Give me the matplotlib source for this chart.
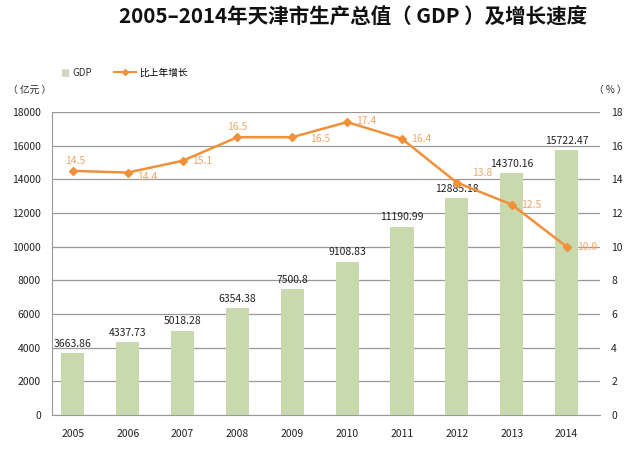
import matplotlib
matplotlib.use("Agg")
import matplotlib.pyplot as plt
from matplotlib.lines import Line2D
import numpy as np

plt.rcParams['font.family'] = ['Noto Sans CJK SC', 'DejaVu Sans']

years = ['2005', '2006', '2007', '2008', '2009', '2010', '2011', '2012', '2013', '2014']
gdp = [3663.86, 4337.73, 5018.28, 6354.38, 7500.8, 9108.83, 11190.99, 12885.18, 14370.16, 15722.47]
growth = [14.5, 14.4, 15.1, 16.5, 16.5, 17.4, 16.4, 13.8, 12.5, 10.0]
gdp_labels = ['3663.86', '4337.73', '5018.28', '6354.38', '7500.8', '9108.83', '11190.99', '12885.18', '14370.16', '15722.47']
growth_labels = ['14.5', '14.4', '15.1', '16.5', '16.5', '17.4', '16.4', '13.8', '12.5', '10.0']
# label offsets in points for the growth labels
growth_offsets = [(2, 7), (14, -3), (14, 0), (0, 7), (20, -1), (14, 1), (14, 0), (18, 7), (14, 0), (15, 0)]

bar_color = '#c8d9ae'
line_color = '#f0913a'
label_orange = '#f3a66a'

fig = plt.figure(figsize=(6.37, 4.49), dpi=100)
ax = fig.add_axes([0.0816, 0.0757, 0.8604, 0.675])
x = np.arange(len(years))

ax.bar(x, gdp, width=0.42, color=bar_color, zorder=2)
for xi, v, s in zip(x, gdp, gdp_labels):
    ax.annotate(s, (xi, v), xytext=(0, 3), textcoords='offset points',
                ha='center', va='bottom', fontsize=7.5, color='#222222', zorder=5)

ax.set_ylim(0, 18000)
ax.set_yticks(range(0, 18001, 2000))
ax.set_xlim(-0.38, 9.61)
ax.set_xticks(x)
ax.set_xticklabels(years)
ax.yaxis.grid(True, color='#999999', linewidth=0.9, zorder=0)
ax.set_axisbelow(True)
for side in ['top', 'right']:
    ax.spines[side].set_visible(False)
ax.spines['left'].set_color('#999999')
ax.spines['bottom'].set_color('#999999')
ax.tick_params(length=0, labelsize=7.5, colors='#222222')
ax.tick_params(axis='x', pad=10)
ax.tick_params(axis='y', pad=8)

ax2 = ax.twinx()
ax2.plot(x, growth, color=line_color, linewidth=1.8, marker='D', markersize=4, zorder=4)
for xi, v, s, off in zip(x, growth, growth_labels, growth_offsets):
    ax2.annotate(s, (xi, v), xytext=off, textcoords='offset points',
                 ha='center', va='center', fontsize=7.5, color=label_orange)
ax2.set_ylim(0, 18)
ax2.set_yticks(range(0, 19, 2))
for side in ['top', 'right', 'left', 'bottom']:
    ax2.spines[side].set_visible(False)
ax2.tick_params(length=0, labelsize=7.5, colors='#222222', pad=8)

fig.text(0.555, 0.963, '2005–2014年天津市生产总值（ GDP ）及增长速度',
         ha='center', va='center', fontsize=14.8, fontweight='heavy', color='#111111')
fig.text(0.047, 0.80, '（ 亿元 ）', ha='center', va='center', fontsize=7, color='#222222')
fig.text(0.958, 0.80, '（ % ）', ha='center', va='center', fontsize=7, color='#222222')

# legend: small square for GDP, line with diamond for growth
fig.text(0.102, 0.838, '■', ha='center', va='center', fontsize=7, color='#d0d8c4',
         family='DejaVu Sans')
fig.text(0.113, 0.838, 'GDP', ha='left', va='center', fontsize=7, color='#333333')
handles = [Line2D([0], [0], color=line_color, marker='D', markersize=3, linewidth=1.5)]
fig.legend(handles, ['比上年增长'], loc='center left', bbox_to_anchor=(0.165, 0.838),
           frameon=False, fontsize=7, handlelength=2.3, handletextpad=0.3)

fig.savefig('out.png', dpi=100)
